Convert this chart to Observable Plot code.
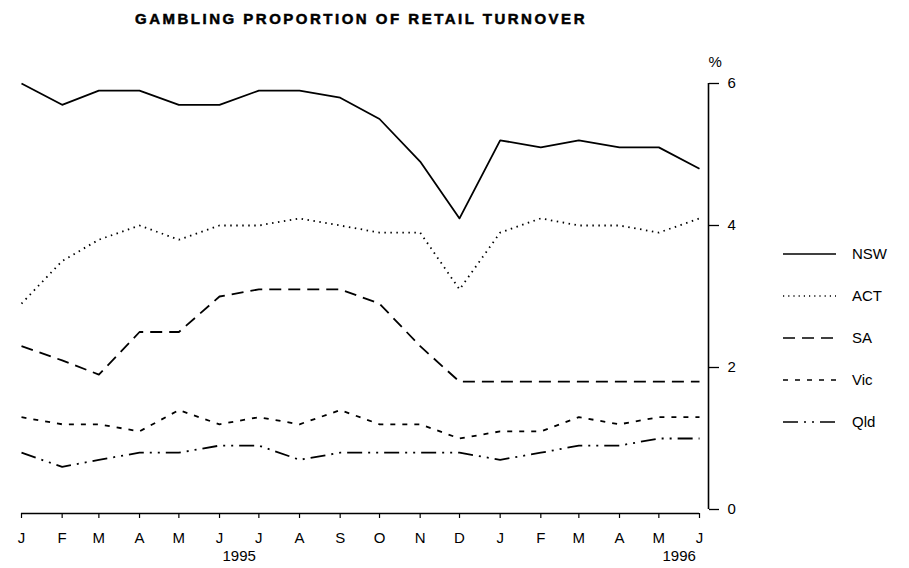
<!DOCTYPE html>
<html>
<head>
<meta charset="utf-8">
<script src="https://cdn.jsdelivr.net/npm/d3@7"></script>
<script src="https://cdn.jsdelivr.net/npm/@observablehq/plot@0.6"></script>
<style>
  html, body { margin: 0; padding: 0; background: #fff; }
  #wrap { position: relative; width: 909px; height: 568px; font-family: "Liberation Sans", Arial, sans-serif; }
  #title { height: 40px; width: 722px; text-align: center; font-weight: bold; font-size: 15px; letter-spacing: 2.5px; line-height: 38px; color: #000; -webkit-text-stroke: 0.5px #000; }
  #chart svg text { font-size: 15px; }
  #legend { position: absolute; left: 0; top: 0; }
</style>
</head>
<body>
<div id="wrap">
  <div id="title">GAMBLING PROPORTION OF RETAIL TURNOVER</div>
  <div id="chart"></div>
</div>
<script>
const monthLabels = ["J","F","M","A","M","J","J","A","S","O","N","D","J","F","M","A","M","J"];
const yearLabels = [{year: "1995", after: 5}, {year: "1996", after: 16}];
const states = ["NSW", "ACT", "SA", "Vic", "Qld"];
const NSW = [6.0,5.7,5.9,5.9,5.7,5.7,5.9,5.9,5.8,5.5,4.9,4.1,5.2,5.1,5.2,5.1,5.1,4.8];
const ACT = [2.9,3.5,3.8,4.0,3.8,4.0,4.0,4.1,4.0,3.9,3.9,3.1,3.9,4.1,4.0,4.0,3.9,4.1];
const SA  = [2.3,2.1,1.9,2.5,2.5,3.0,3.1,3.1,3.1,2.9,2.3,1.8,1.8,1.8,1.8,1.8,1.8,1.8];
const Vic = [1.3,1.2,1.2,1.1,1.4,1.2,1.3,1.2,1.4,1.2,1.2,1.0,1.1,1.1,1.3,1.2,1.3,1.3];
const Qld = [0.8,0.6,0.7,0.8,0.8,0.9,0.9,0.7,0.8,0.8,0.8,0.8,0.7,0.8,0.9,0.9,1.0,1.0];
const yTicks = [0, 2, 4, 6];

const series = {NSW, ACT, SA, Vic, Qld};
const dashes = {NSW: null, ACT: "1.5,4.5", SA: "12,7", Vic: "5,7", Qld: "15,6,2,6,2,6"};
const months = d3.utcMonth.range(new Date(Date.UTC(1995,0,1)), new Date(Date.UTC(1996,6,1)));
const rows = [];
for (const s of states) series[s].forEach((v, i) => rows.push({state: s, date: months[i], value: v}));
const yearRows = yearLabels.map(d => ({year: d.year, date: new Date((+months[d.after] + +months[d.after + 1]) / 2)}));

const font = "'Liberation Sans', Arial, sans-serif";
const chart = Plot.plot({
  width: 909,
  height: 528,
  marginTop: 43,
  marginBottom: 59,
  marginLeft: 21,
  marginRight: 210,
  style: {fontFamily: font, fontSize: "15px", color: "#000", background: "#fff"},
  x: {type: "utc", domain: [months[0], months[months.length - 1]]},
  y: {domain: [0, 6]},
  marks: [
    Plot.axisX({ticks: months, tickFormat: (d, i) => monthLabels[i], tickSize: 5, tickPadding: 14, dy: 4, label: null, strokeWidth: 1.2}),
    Plot.ruleY([0], {x1: months[0], x2: months[months.length - 1], dy: 4, strokeWidth: 1.3}),
    Plot.text(yearRows, {x: "date", text: "year", frameAnchor: "bottom", dy: 51}),
    Plot.axisY({anchor: "right", ticks: yTicks, tickFormat: d => String(d), tickSize: 10, tickPadding: 9, dx: 9, label: null, strokeWidth: 1.3}),
    Plot.ruleX([months[months.length - 1]], {y1: 0, y2: 6, dx: 9, strokeWidth: 1.6}),
    Plot.text(["%"], {frameAnchor: "top-right", dx: 9, dy: -21, textAnchor: "start", lineAnchor: "middle"}),
    ...states.map(s => Plot.line(rows.filter(r => r.state === s), {
      x: "date", y: "value", stroke: "#000", strokeWidth: 1.8,
      strokeDasharray: dashes[s], strokeLinejoin: "round", strokeLinecap: "butt"
    }))
  ]
});
document.getElementById("chart").appendChild(chart);

// Legend
const leg = d3.select("#wrap").append("svg").attr("id", "legend").attr("width", 909).attr("height", 568);
const gy = d3.scalePoint().domain(states).range([254, 422]);
const item = leg.selectAll("g").data(states).join("g").attr("transform", d => `translate(0,${gy(d)})`);
item.append("line").attr("x1", 783).attr("x2", 836).attr("y1", 0).attr("y2", 0)
  .attr("stroke", "#000").attr("stroke-width", 1.6)
  .attr("stroke-dasharray", d => dashes[d] ? (d === "ACT" ? "1.2,4" : dashes[d]) : null);
item.append("text").attr("x", 852).attr("y", 0).attr("dy", "0.35em")
  .attr("font-family", font).attr("font-size", 15).text(d => d);
</script>
</body>
</html>
